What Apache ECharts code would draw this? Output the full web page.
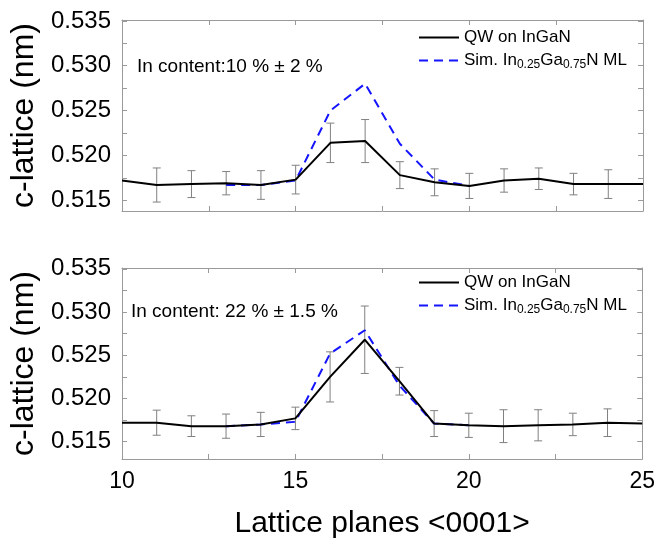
<!DOCTYPE html>
<html>
<head>
<meta charset="utf-8">
<script src="https://cdn.jsdelivr.net/npm/echarts@6/dist/echarts.min.js"></script>
<style>
html, body { margin: 0; padding: 0; background: #fff; }
#chart { width: 658px; height: 545px; }
</style>
</head>
<body>
<div id="chart"></div>
<script>
// lattice planes along <0001>
var planes = [10, 11, 12, 13, 14, 15, 16, 17, 18, 19, 20, 21, 22, 23, 24, 25];

// top panel: In content 10 %
var qwTop = [0.5172, 0.5167, 0.5168, 0.5169, 0.5167, 0.5173, 0.5214, 0.5216, 0.5178, 0.5170, 0.5166, 0.5172, 0.5174, 0.5168, 0.5168, 0.5168];
var errTop = [null, 0.0019, 0.0015, 0.0013, 0.0016, 0.0016, 0.0022, 0.0024, 0.0015, 0.0015, 0.0014, 0.0013, 0.0012, 0.0012, 0.0016, null];
// bottom panel: In content 22 %
var qwBot = [0.5172, 0.5172, 0.5168, 0.5168, 0.5170, 0.5177, 0.5225, 0.5268, 0.5220, 0.5171, 0.5169, 0.5168, 0.5169, 0.5170, 0.5172, 0.5171];
var errBot = [null, 0.00145, 0.0012, 0.0014, 0.0014, 0.0013, 0.0029, 0.0039, 0.0016, 0.0015, 0.0014, 0.0019, 0.0018, 0.0013, 0.0016, null];

// simulated In0.25Ga0.75N monolayer, planes 13..20
var simPlanes = [13, 14, 15, 16, 17, 18, 19, 20];
var simTop = [0.5167, 0.5167, 0.5172, 0.5250, 0.5280, 0.5213, 0.5173, 0.5166];
var simBot = [0.5168, 0.5170, 0.5173, 0.5252, 0.5279, 0.5215, 0.5171, 0.5169];

var yLabels = [0.515, 0.520, 0.525, 0.530, 0.535];
var yTicks = [0.515, 0.5175, 0.520, 0.5225, 0.525, 0.5275, 0.530, 0.5325, 0.535];
var xLabels = [10, 15, 20, 25];

var FONT = 'Liberation Sans, Arial, sans-serif';
var FRAME = '#9a9a9a';

function pairs(xs, ys) {
  return xs.map(function (x, i) { return [x, ys[i]]; });
}
function errData(vals, errs) {
  var out = [];
  planes.forEach(function (x, i) {
    if (errs[i] != null) out.push([x, vals[i] - errs[i], vals[i] + errs[i]]);
  });
  return out;
}
function renderErr(params, api) {
  var x = api.value(0);
  var lo = api.coord([x, api.value(1)]);
  var hi = api.coord([x, api.value(2)]);
  var w = 4;
  var st = { stroke: '#808080', lineWidth: 1 };
  return {
    type: 'group',
    children: [
      { type: 'line', shape: { x1: lo[0], y1: lo[1], x2: hi[0], y2: hi[1] }, style: st },
      { type: 'line', shape: { x1: hi[0] - w, y1: hi[1], x2: hi[0] + w, y2: hi[1] }, style: st },
      { type: 'line', shape: { x1: lo[0] - w, y1: lo[1], x2: lo[0] + w, y2: lo[1] }, style: st }
    ]
  };
}

function xAxisOf(grid, pos, showLabel) {
  return {
    type: 'value', gridIndex: grid, position: pos, min: 10, max: 25, interval: 2.5,
    axisLine: { lineStyle: { color: FRAME, width: 1 } },
    axisTick: { inside: true, length: 5, lineStyle: { color: FRAME } },
    axisLabel: {
      show: showLabel, customValues: xLabels, margin: 11,
      fontSize: 23, fontFamily: FONT, color: '#000'
    },
    splitLine: { show: false },
    name: showLabel ? 'Lattice planes <0001>' : '',
    nameLocation: 'middle', nameGap: 50,
    nameTextStyle: { fontSize: 30, fontFamily: FONT, color: '#000' }
  };
}
function yAxisOf(grid, pos, min, showLabel) {
  return {
    type: 'value', gridIndex: grid, position: pos, min: min, max: 0.5351,
    axisLine: { show: true, lineStyle: { color: FRAME, width: 1 } },
    axisTick: { inside: true, length: 5, customValues: yTicks, lineStyle: { color: FRAME } },
    axisLabel: {
      show: showLabel, customValues: yLabels, margin: 11,
      fontSize: 24, fontFamily: FONT, color: '#000',
      formatter: function (v) { return v.toFixed(3); }
    },
    splitLine: { show: false },
    name: showLabel ? 'c-lattice (nm)' : '',
    nameLocation: 'middle', nameRotate: 90, nameGap: 82,
    nameTextStyle: { fontSize: 32, fontFamily: FONT, color: '#000' }
  };
}

var legendRich = {
  t: { fontSize: 17, fontFamily: FONT, color: '#000', lineHeight: 19 },
  s: { fontSize: 12, fontFamily: FONT, color: '#000', verticalAlign: 'bottom', padding: [9, 0, 0, 0] }
};
function legendFmt(name) {
  if (name === 'QW on InGaN') return '{t|QW on InGaN}';
  return '{t|Sim. In}{s|0.25}{t|Ga}{s|0.75}{t|N ML}';
}
function legendOf(top) {
  return {
    orient: 'vertical', left: 418, top: top, padding: 0,
    itemWidth: 40, itemHeight: 14, itemGap: 6,
    data: ['QW on InGaN', 'Sim. In0.25Ga0.75N ML'],
    formatter: legendFmt,
    itemStyle: { opacity: 0 },
    textStyle: { rich: legendRich }, selectedMode: false
  };
}

function panelSeries(i, qw, err, sim) {
  return [
    {
      type: 'custom', name: 'err' + i, xAxisIndex: i * 2, yAxisIndex: i * 2,
      renderItem: renderErr, data: errData(qw, err), z: 1, silent: true
    },
    {
      type: 'line', name: 'Sim. In0.25Ga0.75N ML', xAxisIndex: i * 2, yAxisIndex: i * 2,
      data: pairs(simPlanes, sim), symbol: 'none', z: 2,
      lineStyle: { color: '#1414ff', width: 2, type: [9, 6] }, itemStyle: { color: '#1414ff' }
    },
    {
      type: 'line', name: 'QW on InGaN', xAxisIndex: i * 2, yAxisIndex: i * 2,
      data: pairs(planes, qw), symbol: 'none', z: 3,
      lineStyle: { color: '#000', width: 2 }, itemStyle: { color: '#000' }
    }
  ];
}

var chart = echarts.init(document.getElementById('chart'));
chart.setOption({
  animation: false,
  backgroundColor: '#fff',
  grid: [
    { left: 122, top: 20, width: 521, height: 191 },
    { left: 122, top: 268, width: 521, height: 191 }
  ],
  xAxis: [
    xAxisOf(0, 'bottom', false), xAxisOf(0, 'top', false),
    xAxisOf(1, 'bottom', true), xAxisOf(1, 'top', false)
  ],
  yAxis: [
    yAxisOf(0, 'left', 0.5138, true), yAxisOf(0, 'right', 0.5138, false),
    yAxisOf(1, 'left', 0.5130, true), yAxisOf(1, 'right', 0.5130, false)
  ],
  legend: [legendOf(29), legendOf(274)],
  graphic: [
    { type: 'text', left: 137, top: 57, style: { text: 'In content:10 % \u00b1 2 %', fontSize: 19, fontFamily: FONT, fill: '#000' } },
    { type: 'text', left: 131, top: 302, style: { text: 'In content: 22 % \u00b1 1.5 %', fontSize: 19, fontFamily: FONT, fill: '#000' } }
  ],
  series: panelSeries(0, qwTop, errTop, simTop).concat(panelSeries(1, qwBot, errBot, simBot))
});
</script>
</body>
</html>
